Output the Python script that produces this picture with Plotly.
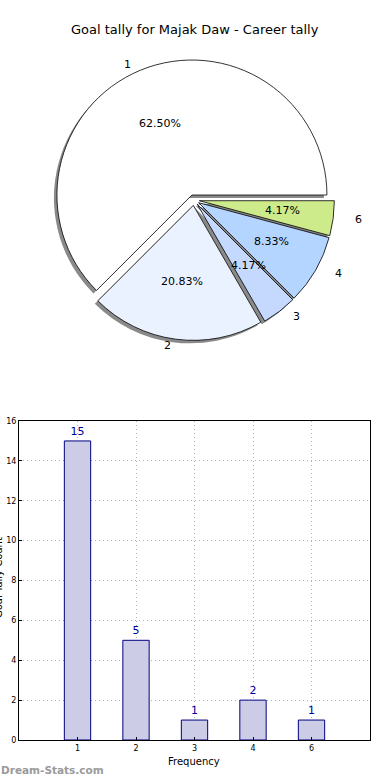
import math
import plotly.graph_objects as go

# ---------------- data ----------------
title_text = "Goal tally for Majak Daw - Career tally"
goal_categories = ["1", "2", "3", "4", "6"]
goal_counts = [15, 5, 1, 2, 1]
slice_colors = ["#FFFFFF", "#EBF2FF", "#C5D9FF", "#B3D5FF", "#CDEB8B"]
y_tick_values = [0, 2, 4, 6, 8, 10, 12, 14, 16]
x_axis_title = "Frequency"
y_axis_title = "Goal Tally Count"
watermark = "Dream-Stats.com"

W, H = 390, 780
FONT = "DejaVu Sans"


def px(x):
    return x / W


def py(y):
    return 1 - y / H


# pie geometry (style)
CX, CY = 194, 200
R = 135
PULL = 0.04
RX, RY = 141, 129
EXP = 5
SHADOW = 3

half = R * (1 + PULL)
pie_dom = dict(x=[px(CX - half), px(CX + half)], y=[py(CY + half), py(CY - half)])
sh_dom = dict(x=[px(CX - half - SHADOW), px(CX + half - SHADOW)],
              y=[py(CY + half + SHADOW), py(CY - half + SHADOW)])

total = sum(goal_counts)
# first slice starts at 3 o'clock and runs counter-clockwise (plotly clock angle)
first_span = goal_counts[0] / total * 360
pie_rotation = 90 - first_span

fig = go.Figure()

# shadow pie
fig.add_trace(go.Pie(
    values=goal_counts, labels=goal_categories, sort=False,
    direction="counterclockwise", rotation=pie_rotation,
    pull=[PULL] * len(goal_counts),
    marker=dict(colors=["#8a8a8a"] * len(goal_counts), line=dict(width=0)),
    textinfo="none", hoverinfo="skip", showlegend=False, domain=sh_dom,
))
# main pie
fig.add_trace(go.Pie(
    values=goal_counts, labels=goal_categories, sort=False,
    direction="counterclockwise", rotation=pie_rotation,
    pull=[PULL] * len(goal_counts),
    marker=dict(colors=slice_colors, line=dict(color="#000000", width=0.8)),
    textinfo="none", showlegend=False, domain=pie_dom,
))

# bar chart
fig.add_trace(go.Bar(
    x=goal_categories, y=goal_counts, width=0.45,
    marker=dict(color="#CCCCE6", line=dict(color="#000080", width=1)),
    text=[str(v) for v in goal_counts], textposition="outside",
    textfont=dict(color="#0000A0", size=11, family=FONT),
    cliponaxis=False, showlegend=False,
))

annotations = []
start = 0.0
for lab, v in zip(goal_categories, goal_counts):
    span = v / total * 360
    mid = math.radians(start + span / 2)
    start += span
    c, s = math.cos(mid), math.sin(mid)
    ox, oy = CX + EXP * c, CY - EXP * s
    lx, ly = ox + 1.1 * RX * c, oy - 1.1 * RY * s
    annotations.append(dict(
        x=px(lx), y=py(ly), xref="paper", yref="paper", text=lab, showarrow=False,
        xanchor="left" if c > 0 else "right", yanchor="middle",
        font=dict(size=11, color="#000", family=FONT)))
    tx, ty = ox + 0.6 * RX * c, oy - 0.6 * RY * s
    annotations.append(dict(
        x=px(tx), y=py(ty), xref="paper", yref="paper",
        text="%.2f%%" % (v / total * 100), showarrow=False,
        xanchor="center", yanchor="middle",
        font=dict(size=11, color="#000", family=FONT)))

annotations.append(dict(x=px(195), y=py(30), xref="paper", yref="paper", text=title_text,
                        showarrow=False, xanchor="center", yanchor="middle",
                        font=dict(size=13, color="#000", family=FONT)))
annotations.append(dict(x=px(194), y=py(761), xref="paper", yref="paper", text=x_axis_title,
                        showarrow=False, xanchor="center", yanchor="middle",
                        font=dict(size=10, color="#000", family=FONT)))
annotations.append(dict(x=px(-2), y=py(578), xref="paper", yref="paper", text=y_axis_title,
                        showarrow=False, xanchor="center", yanchor="middle", textangle=-90,
                        font=dict(size=10, color="#000", family=FONT)))
annotations.append(dict(x=px(-1), y=py(770), xref="paper", yref="paper",
                        text="<b>" + watermark + "</b>",
                        showarrow=False, xanchor="left", yanchor="middle",
                        font=dict(size=10.5, color="#9a9a9a", family=FONT)))

grid_style = dict(showgrid=True, gridcolor="#b0b0b0", griddash="1px,3px", gridwidth=1)

fig.update_layout(
    width=W, height=H,
    margin=dict(l=0, r=0, t=0, b=0, autoexpand=False),
    paper_bgcolor="white", plot_bgcolor="white",
    font=dict(family=FONT, color="#000"),
    annotations=annotations,
    xaxis=dict(domain=[px(19), px(370)], type="category", range=[-1.0, 5.0],
               showline=True, linecolor="#000", linewidth=1, mirror=True,
               ticks="inside", ticklen=3, tickcolor="#000",
               tickfont=dict(size=8, family=FONT, color="#000"),
               automargin=False, zeroline=False, fixedrange=True, **grid_style),
    yaxis=dict(domain=[py(740), py(421)], range=[0, 16], tickvals=y_tick_values,
               showline=True, linecolor="#000", linewidth=1, mirror=True,
               ticks="inside", ticklen=3, tickcolor="#000",
               tickfont=dict(size=8, family=FONT, color="#000"),
               automargin=False, zeroline=False, fixedrange=True, **grid_style),
)

fig.write_html("out.html", config={"displayModeBar": False},
               post_script="document.body.style.margin='0';")
